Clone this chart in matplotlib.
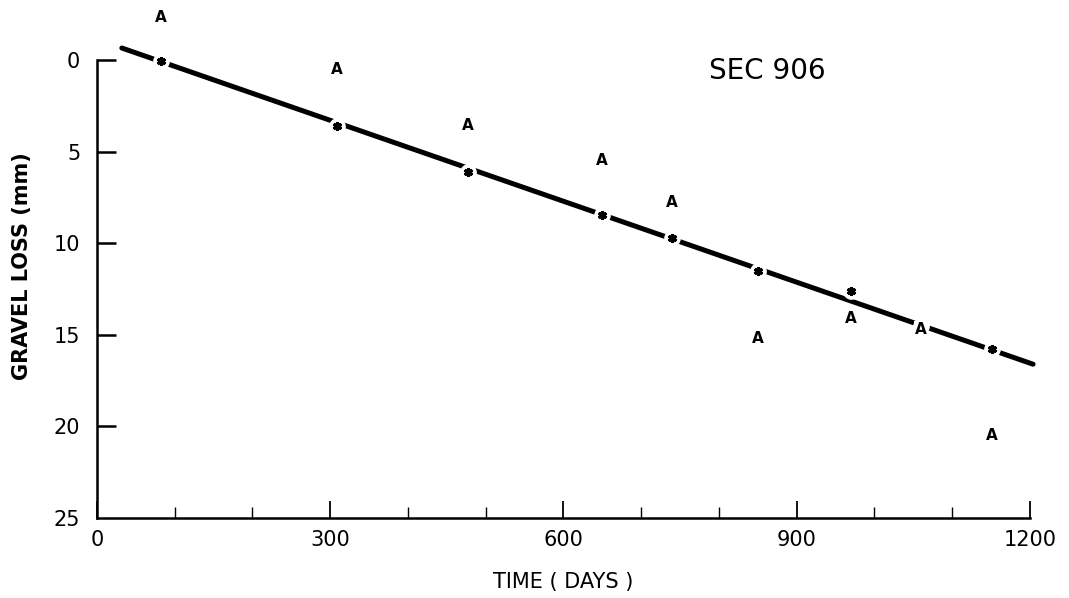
import matplotlib
matplotlib.use('Agg')
import matplotlib.pyplot as plt
from matplotlib.ticker import MultipleLocator
import numpy as np

# Gravel loss on section 906
days = [82, 309, 477, 649, 739, 850, 970, 1060, 1151]
measured = [-2.3, 0.5, 3.55, 5.46, 7.8, 15.2, 14.1, 14.7, 20.5]  # "A" points
predicted = [0.05, 3.6, 6.1, 8.45, 9.7, 11.5, 12.6, 14.5, 15.8]  # "*" points

# Fitted trend line: loss = intercept + slope * days
fit_intercept = -1.13
fit_slope = 0.01473
fit_range = [32, 1204]

fig = plt.figure(figsize=(10.69, 5.98), dpi=100)
ax = fig.add_axes([0.0907, 0.1338, 0.8728, 0.8662])

x_fit = np.array(fit_range)
ax.plot(x_fit, fit_intercept + fit_slope * x_fit, color='black', lw=3.6,
        solid_capstyle='round', clip_on=False, zorder=2)

# white halo so the line breaks around each star
ax.plot(days, predicted, 'o', color='white', ms=12, mew=0, zorder=3)
ax.plot(days, predicted, marker=(6, 2, 0), ls='none', color='black',
        ms=6.5, mew=2.2, zorder=4)

for d, m in zip(days, measured):
    ax.text(d, m, 'A', fontsize=11, fontweight='bold', ha='center', va='center',
            zorder=5, bbox=dict(facecolor='white', edgecolor='none', pad=0.5))

ax.text(0.719, 0.863, 'SEC 906', transform=ax.transAxes, fontsize=20,
        ha='center', va='center')

ax.set_xlim(0, 1200)
ax.set_ylim(25, -3.28)
ax.spines['top'].set_visible(False)
ax.spines['right'].set_visible(False)
ax.spines['left'].set_bounds(0, 25)
ax.spines['left'].set_linewidth(1.8)
ax.spines['bottom'].set_linewidth(1.8)

ax.xaxis.set_major_locator(MultipleLocator(300))
ax.xaxis.set_minor_locator(MultipleLocator(100))
ax.set_yticks([0, 5, 10, 15, 20, 25])
ax.tick_params(axis='y', direction='in', length=13.5, width=1.8, pad=12,
               labelsize=15)
ax.tick_params(axis='y', which='minor', left=False)
ax.tick_params(axis='x', which='major', direction='in', length=12, width=1.3,
               pad=9, labelsize=15)
ax.tick_params(axis='x', which='minor', direction='in', length=8, width=1.0)
# 25 sits on the x axis, no tick mark there
ax.yaxis.get_major_ticks()[-1].tick1line.set_visible(False)

ax.set_xlabel('TIME ( DAYS )', fontsize=15)
ax.xaxis.set_label_coords(0.5, -0.1236)
ax.xaxis.label.set_va('center')
ax.set_ylabel('GRAVEL LOSS (mm)', fontsize=15, fontweight='bold')
ax.yaxis.set_label_coords(-0.0804, 0.4865)
ax.yaxis.label.set_va('center')

fig.savefig('out.png', dpi=100)
